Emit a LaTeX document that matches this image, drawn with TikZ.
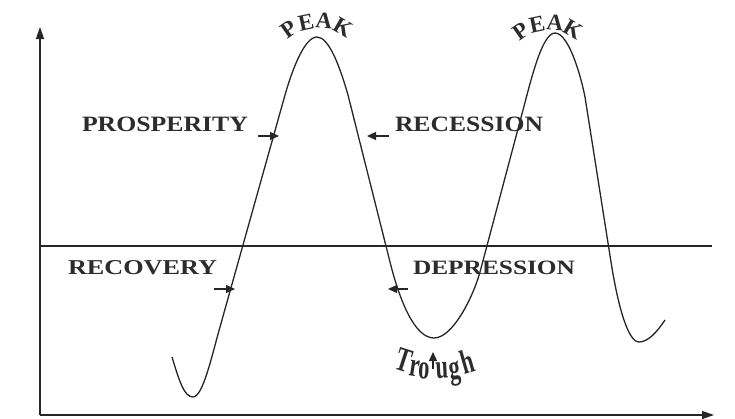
\documentclass[tikz,border=0pt]{standalone}
\usepackage{fontspec}
\setmainfont{Liberation Serif}
\usetikzlibrary{arrows.meta}
\definecolor{ink}{HTML}{262626}
\definecolor{txt}{HTML}{2C2C2C}
\tikzset{
  axisline/.style={draw=ink, line width=1.3pt, -{Triangle[length=12pt,width=8pt]}},
  baseline/.style={draw=ink, line width=1.2pt},
  curveline/.style={draw=ink, line width=1.3pt},
  pointer/.style={draw=ink, line width=1.3pt, -{Triangle[length=9pt,width=8pt]}},
  phase/.style={inner sep=0pt, outer sep=0pt, anchor=south west, text=txt},
  letter/.style={inner sep=0pt, outer sep=0pt, text=txt, font=\fontsize{23}{23}\selectfont\bfseries},
  tletter/.style={inner sep=0pt, outer sep=0pt, text=txt, font=\fontsize{34}{34}\selectfont\bfseries}
}
\newcommand{\fitlabel}[3]{\resizebox{#1}{#2}{\bfseries #3}}
\newcommand{\narrow}[1]{\scalebox{0.66}[1]{#1}}
\begin{document}
\begin{tikzpicture}[x=1pt,y=-1pt]
\useasboundingbox (0,0) rectangle (735,418);
% axes
\coordinate (O) at (40,415);
\coordinate (Ytop) at (40,27);
\coordinate (Xend) at (714,415);
\coordinate (Hl) at (40,246);
\coordinate (Hr) at (712,246);
\draw[axisline] (O) -- (Ytop);
\draw[axisline] (O) -- (Xend);
\draw[baseline] (Hl) -- (Hr);
% cycle curve
\draw[curveline]
 (172,357) .. controls (179,380) and (184,397) .. (193,397)
 .. controls (203,397) and (212,355) .. (220,327)
 -- (285,95)
 .. controls (293,67) and (305,37) .. (317,37)
 .. controls (329,37) and (340,67) .. (348,95)
 -- (390,262)
 .. controls (400,302) and (415,338) .. (434,338)
 .. controls (452,338) and (472,300) .. (480,272)
 -- (523,110)
 .. controls (531,80) and (542,33) .. (555,33)
 .. controls (568,33) and (580,72) .. (585,97)
 -- (611,262)
 .. controls (617,300) and (627,342) .. (639,342)
 .. controls (648,342) and (657,332) .. (665,320);
% phase labels
\node[phase] (prosp) at (82,132) {\fitlabel{166pt}{14.5pt}{PROSPERITY}};
\node[phase] (reces) at (395,132) {\fitlabel{148pt}{14.5pt}{RECESSION}};
\node[phase] (recov) at (68,275) {\fitlabel{149pt}{14pt}{RECOVERY}};
\node[phase] (depr) at (413,275) {\fitlabel{162pt}{13.5pt}{DEPRESSION}};
% pointer arrows
\coordinate (pa1) at (258,136); \coordinate (pa2) at (279,136);
\coordinate (ra1) at (389,136); \coordinate (ra2) at (367,136);
\coordinate (va1) at (214,289); \coordinate (va2) at (235,289);
\coordinate (da1) at (408,289); \coordinate (da2) at (388,289);
\draw[pointer] (pa1) -- (pa2);
\draw[pointer] (ra1) -- (ra2);
\draw[pointer] (va1) -- (va2);
\draw[pointer] (da1) -- (da2);
% PEAK 1
\node[letter, rotate=35] (p1P) at (289,29) {P};
\node[letter, rotate=12] (p1E) at (306,23) {E};
\node[letter, rotate=-5] (p1A) at (324,21) {A};
\node[letter, rotate=-30] (p1K) at (343,27) {K};
% PEAK 2
\node[letter, rotate=35] (p2P) at (521,31) {P};
\node[letter, rotate=12] (p2E) at (537,25) {E};
\node[letter, rotate=-5] (p2A) at (555,23) {A};
\node[letter, rotate=-30] (p2K) at (573,29) {K};
% Trough
\node[tletter, rotate=-18] (tT) at (404,360) {\narrow{T}};
\node[tletter, rotate=-9] (tr) at (415,368) {\narrow{r}};
\node[tletter, rotate=-3] (to) at (424,371) {\narrow{o}};
\node[tletter, rotate=3] (tu) at (442,371) {\narrow{u}};
\node[tletter, rotate=8] (tg) at (455,374) {\narrow{g}};
\node[tletter, rotate=16] (th) at (467,361) {\narrow{h}};
\coordinate (ta1) at (433,369); \coordinate (ta2) at (433,352);
\draw[pointer] (ta1) -- (ta2);
\end{tikzpicture}
\end{document}
